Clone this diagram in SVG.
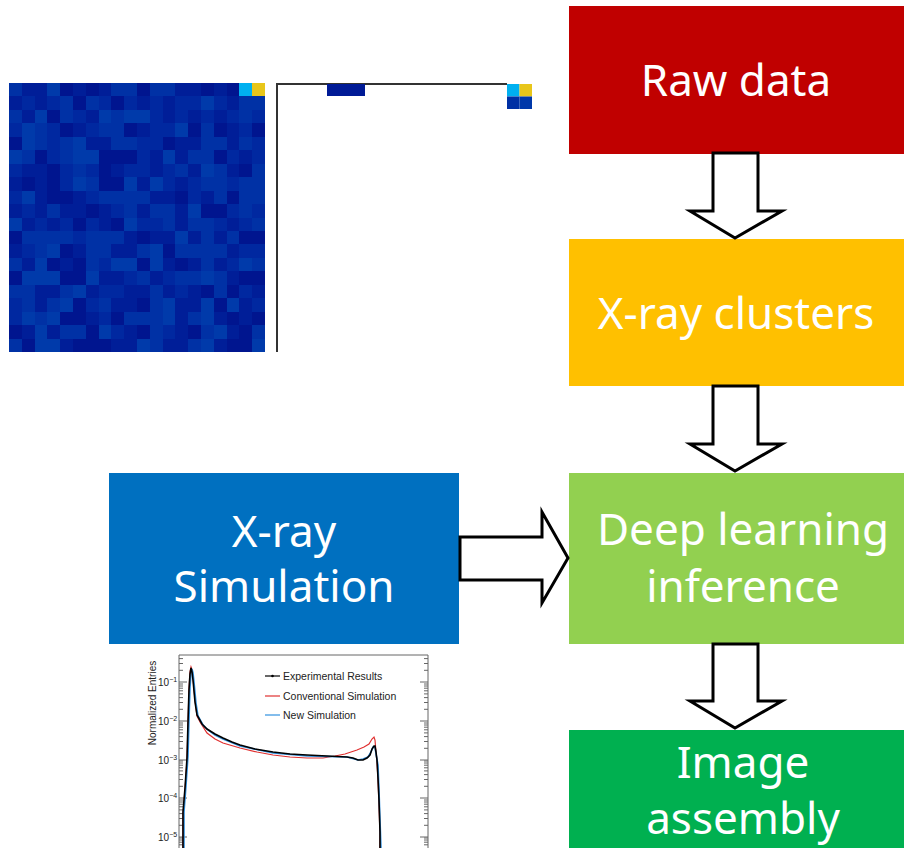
<svg xmlns="http://www.w3.org/2000/svg" width="912" height="848" viewBox="0 0 912 848">
<style>
.box text{font-family:"Noto Sans","Open Sans",sans-serif;font-size:44px;fill:#fff;text-anchor:middle}
.arrow{fill:#fff;stroke:#000;stroke-width:3;stroke-linejoin:miter}
.hm rect{width:1px;height:1px}
.l{fill:#0031a5}.L{fill:#003aaa}.d{fill:#001e98}.D{fill:#00158f}
.ax{stroke:#666;stroke-width:1;fill:none}
.pt{font-family:"Liberation Sans",Arial,sans-serif;font-size:10px;fill:#222}
.lg{font-family:"Liberation Sans",Arial,sans-serif;font-size:10.5px;fill:#222}
</style>
<rect width="912" height="848" fill="#fff"/>

<g id="heatmap">
<rect x="9" y="83" width="256" height="269" fill="#0028a0"/>
<g class="hm" transform="translate(9,83) scale(12.8,13.45)" shape-rendering="crispEdges">
<rect x="0" y="0" class="l"/><rect x="1" y="0" class="d"/><rect x="2" y="0" class="d"/><rect x="3" y="0" class="L"/><rect x="4" y="0" class="D"/><rect x="5" y="0" class="d"/><rect x="6" y="0" class="D"/><rect x="7" y="0" class="d"/><rect x="8" y="0" class="l"/><rect x="9" y="0" class="l"/><rect x="10" y="0" class="D"/><rect x="11" y="0" class="l"/><rect x="12" y="0" class="l"/><rect x="13" y="0" class="d"/><rect x="14" y="0" class="d"/><rect x="15" y="0" class="D"/><rect x="16" y="0" class="d"/><rect x="17" y="0" class="D"/><rect x="18" y="0" fill="#00b0f0"/><rect x="19" y="0" fill="#e8c61a"/>
<rect x="0" y="1" class="d"/><rect x="2" y="1" class="d"/><rect x="4" y="1" class="l"/><rect x="5" y="1" class="D"/><rect x="6" y="1" class="l"/><rect x="8" y="1" class="D"/><rect x="10" y="1" class="d"/><rect x="12" y="1" class="d"/><rect x="15" y="1" class="L"/><rect x="17" y="1" class="d"/><rect x="18" y="1" class="l"/><rect x="19" y="1" class="l"/>
<rect x="0" y="2" class="l"/><rect x="1" y="2" class="d"/><rect x="2" y="2" class="L"/><rect x="3" y="2" class="D"/><rect x="4" y="2" class="l"/><rect x="6" y="2" class="d"/><rect x="7" y="2" class="L"/><rect x="8" y="2" class="l"/><rect x="9" y="2" class="L"/><rect x="10" y="2" class="L"/><rect x="12" y="2" class="d"/><rect x="14" y="2" class="d"/><rect x="16" y="2" class="d"/><rect x="18" y="2" class="l"/>
<rect x="1" y="3" class="L"/><rect x="2" y="3" class="l"/><rect x="4" y="3" class="D"/><rect x="5" y="3" class="d"/><rect x="7" y="3" class="l"/><rect x="8" y="3" class="l"/><rect x="9" y="3" class="D"/><rect x="10" y="3" class="d"/><rect x="13" y="3" class="L"/><rect x="14" y="3" class="D"/><rect x="15" y="3" class="l"/><rect x="16" y="3" class="D"/><rect x="17" y="3" class="d"/><rect x="19" y="3" class="D"/>
<rect x="0" y="4" class="D"/><rect x="1" y="4" class="L"/><rect x="2" y="4" class="l"/><rect x="4" y="4" class="l"/><rect x="5" y="4" class="L"/><rect x="6" y="4" class="d"/><rect x="7" y="4" class="d"/><rect x="8" y="4" class="l"/><rect x="9" y="4" class="l"/><rect x="12" y="4" class="D"/><rect x="13" y="4" class="d"/><rect x="14" y="4" class="d"/><rect x="15" y="4" class="l"/><rect x="16" y="4" class="l"/><rect x="17" y="4" class="d"/><rect x="18" y="4" class="l"/>
<rect x="0" y="5" class="L"/><rect x="1" y="5" class="l"/><rect x="2" y="5" class="D"/><rect x="4" y="5" class="l"/><rect x="5" y="5" class="L"/><rect x="6" y="5" class="L"/><rect x="7" y="5" class="D"/><rect x="8" y="5" class="D"/><rect x="9" y="5" class="D"/><rect x="11" y="5" class="d"/><rect x="12" y="5" class="L"/><rect x="13" y="5" class="d"/><rect x="14" y="5" class="l"/><rect x="15" y="5" class="l"/><rect x="16" y="5" class="D"/><rect x="18" y="5" class="d"/>
<rect x="1" y="6" class="d"/><rect x="2" y="6" class="d"/><rect x="3" y="6" class="D"/><rect x="5" y="6" class="l"/><rect x="7" y="6" class="D"/><rect x="8" y="6" class="d"/><rect x="11" y="6" class="d"/><rect x="13" y="6" class="l"/><rect x="14" y="6" class="d"/><rect x="15" y="6" class="L"/><rect x="16" y="6" class="l"/><rect x="17" y="6" class="d"/><rect x="18" y="6" class="D"/><rect x="19" y="6" class="l"/>
<rect x="0" y="7" class="d"/><rect x="1" y="7" class="D"/><rect x="2" y="7" class="d"/><rect x="3" y="7" class="D"/><rect x="5" y="7" class="L"/><rect x="6" y="7" class="l"/><rect x="7" y="7" class="D"/><rect x="8" y="7" class="D"/><rect x="9" y="7" class="L"/><rect x="10" y="7" class="d"/><rect x="11" y="7" class="L"/><rect x="13" y="7" class="d"/><rect x="15" y="7" class="l"/><rect x="16" y="7" class="l"/><rect x="18" y="7" class="l"/><rect x="19" y="7" class="l"/>
<rect x="1" y="8" class="L"/><rect x="2" y="8" class="d"/><rect x="3" y="8" class="D"/><rect x="4" y="8" class="D"/><rect x="5" y="8" class="d"/><rect x="7" y="8" class="l"/><rect x="8" y="8" class="l"/><rect x="9" y="8" class="l"/><rect x="10" y="8" class="l"/><rect x="11" y="8" class="d"/><rect x="12" y="8" class="d"/><rect x="13" y="8" class="D"/><rect x="15" y="8" class="d"/><rect x="16" y="8" class="l"/><rect x="17" y="8" class="D"/><rect x="18" y="8" class="l"/><rect x="19" y="8" class="l"/>
<rect x="0" y="9" class="d"/><rect x="2" y="9" class="d"/><rect x="3" y="9" class="l"/><rect x="4" y="9" class="d"/><rect x="5" y="9" class="d"/><rect x="6" y="9" class="D"/><rect x="7" y="9" class="d"/><rect x="9" y="9" class="l"/><rect x="10" y="9" class="d"/><rect x="11" y="9" class="l"/><rect x="12" y="9" class="l"/><rect x="13" y="9" class="d"/><rect x="14" y="9" class="L"/><rect x="15" y="9" class="D"/><rect x="16" y="9" class="D"/><rect x="18" y="9" class="l"/>
<rect x="0" y="10" class="L"/><rect x="1" y="10" class="d"/><rect x="3" y="10" class="d"/><rect x="5" y="10" class="D"/><rect x="7" y="10" class="d"/><rect x="8" y="10" class="D"/><rect x="9" y="10" class="L"/><rect x="12" y="10" class="l"/><rect x="13" y="10" class="d"/><rect x="14" y="10" class="l"/><rect x="15" y="10" class="l"/><rect x="17" y="10" class="d"/><rect x="19" y="10" class="l"/>
<rect x="0" y="11" class="D"/><rect x="1" y="11" class="l"/><rect x="2" y="11" class="l"/><rect x="3" y="11" class="l"/><rect x="4" y="11" class="l"/><rect x="6" y="11" class="l"/><rect x="7" y="11" class="l"/><rect x="8" y="11" class="l"/><rect x="9" y="11" class="d"/><rect x="10" y="11" class="D"/><rect x="11" y="11" class="d"/><rect x="12" y="11" class="d"/><rect x="13" y="11" class="L"/><rect x="14" y="11" class="d"/><rect x="15" y="11" class="l"/><rect x="16" y="11" class="d"/><rect x="17" y="11" class="l"/><rect x="18" y="11" class="D"/><rect x="19" y="11" class="D"/>
<rect x="0" y="12" class="d"/><rect x="2" y="12" class="l"/><rect x="3" y="12" class="L"/><rect x="4" y="12" class="D"/><rect x="5" y="12" class="d"/><rect x="6" y="12" class="l"/><rect x="7" y="12" class="l"/><rect x="8" y="12" class="d"/><rect x="9" y="12" class="d"/><rect x="10" y="12" class="l"/><rect x="11" y="12" class="L"/><rect x="12" y="12" class="D"/><rect x="13" y="12" class="l"/><rect x="14" y="12" class="l"/><rect x="15" y="12" class="l"/><rect x="16" y="12" class="l"/><rect x="17" y="12" class="d"/>
<rect x="0" y="13" class="l"/><rect x="1" y="13" class="d"/><rect x="2" y="13" class="L"/><rect x="3" y="13" class="D"/><rect x="4" y="13" class="d"/><rect x="5" y="13" class="D"/><rect x="6" y="13" class="l"/><rect x="8" y="13" class="L"/><rect x="9" y="13" class="L"/><rect x="10" y="13" class="D"/><rect x="11" y="13" class="L"/><rect x="12" y="13" class="d"/><rect x="13" y="13" class="D"/><rect x="14" y="13" class="d"/><rect x="15" y="13" class="l"/><rect x="16" y="13" class="d"/><rect x="18" y="13" class="L"/><rect x="19" y="13" class="l"/>
<rect x="0" y="14" class="D"/><rect x="1" y="14" class="L"/><rect x="2" y="14" class="L"/><rect x="3" y="14" class="L"/><rect x="4" y="14" class="D"/><rect x="5" y="14" class="D"/><rect x="6" y="14" class="L"/><rect x="7" y="14" class="d"/><rect x="8" y="14" class="d"/><rect x="10" y="14" class="l"/><rect x="11" y="14" class="d"/><rect x="13" y="14" class="l"/><rect x="14" y="14" class="l"/><rect x="15" y="14" class="L"/><rect x="16" y="14" class="l"/><rect x="17" y="14" class="d"/><rect x="18" y="14" class="D"/><rect x="19" y="14" class="D"/>
<rect x="0" y="15" class="l"/><rect x="1" y="15" class="l"/><rect x="2" y="15" class="d"/><rect x="3" y="15" class="d"/><rect x="4" y="15" class="l"/><rect x="5" y="15" class="L"/><rect x="6" y="15" class="d"/><rect x="9" y="15" class="d"/><rect x="10" y="15" class="d"/><rect x="11" y="15" class="l"/><rect x="12" y="15" class="d"/><rect x="14" y="15" class="d"/><rect x="15" y="15" class="D"/><rect x="16" y="15" class="l"/><rect x="17" y="15" class="D"/><rect x="19" y="15" class="d"/>
<rect x="1" y="16" class="l"/><rect x="2" y="16" class="d"/><rect x="3" y="16" class="l"/><rect x="4" y="16" class="L"/><rect x="5" y="16" class="D"/><rect x="7" y="16" class="l"/><rect x="8" y="16" class="d"/><rect x="9" y="16" class="d"/><rect x="10" y="16" class="D"/><rect x="11" y="16" class="l"/><rect x="12" y="16" class="L"/><rect x="13" y="16" class="d"/><rect x="14" y="16" class="d"/><rect x="15" y="16" class="L"/><rect x="16" y="16" class="D"/><rect x="17" y="16" class="L"/><rect x="18" y="16" class="d"/>
<rect x="1" y="17" class="L"/><rect x="2" y="17" class="l"/><rect x="3" y="17" class="L"/><rect x="4" y="17" class="D"/><rect x="5" y="17" class="D"/><rect x="6" y="17" class="d"/><rect x="8" y="17" class="D"/><rect x="9" y="17" class="l"/><rect x="10" y="17" class="l"/><rect x="11" y="17" class="l"/><rect x="12" y="17" class="L"/><rect x="13" y="17" class="d"/><rect x="14" y="17" class="l"/><rect x="15" y="17" class="L"/><rect x="16" y="17" class="d"/><rect x="17" y="17" class="D"/><rect x="18" y="17" class="d"/><rect x="19" y="17" class="D"/>
<rect x="0" y="18" class="D"/><rect x="1" y="18" class="d"/><rect x="2" y="18" class="L"/><rect x="3" y="18" class="d"/><rect x="4" y="18" class="l"/><rect x="5" y="18" class="l"/><rect x="6" y="18" class="D"/><rect x="7" y="18" class="L"/><rect x="9" y="18" class="d"/><rect x="10" y="18" class="D"/><rect x="11" y="18" class="l"/><rect x="13" y="18" class="d"/><rect x="14" y="18" class="D"/><rect x="15" y="18" class="l"/><rect x="16" y="18" class="L"/><rect x="17" y="18" class="d"/><rect x="18" y="18" class="D"/><rect x="19" y="18" class="l"/>
<rect x="0" y="19" class="l"/><rect x="1" y="19" class="D"/><rect x="2" y="19" class="L"/><rect x="3" y="19" class="L"/><rect x="4" y="19" class="d"/><rect x="5" y="19" class="D"/><rect x="6" y="19" class="D"/><rect x="7" y="19" class="D"/><rect x="8" y="19" class="d"/><rect x="9" y="19" class="d"/><rect x="10" y="19" class="L"/><rect x="11" y="19" class="l"/><rect x="12" y="19" class="d"/><rect x="13" y="19" class="d"/><rect x="14" y="19" class="l"/><rect x="15" y="19" class="L"/><rect x="16" y="19" class="d"/><rect x="17" y="19" class="D"/><rect x="18" y="19" class="D"/><rect x="19" y="19" class="L"/>
</g>
</g>

<g id="sparse-frame">
<path d="M277,352 V84 H507" fill="none" stroke="#333" stroke-width="2"/>
<rect x="327" y="84" width="38" height="12" fill="#001a96"/>
<rect x="507" y="84" width="12.5" height="12.5" fill="#00b0f0"/>
<rect x="519.5" y="84" width="12.5" height="12.5" fill="#e8c61a"/>
<rect x="507" y="96.5" width="12.5" height="12.5" fill="#0030a4"/>
<rect x="519.5" y="96.5" width="12.5" height="12.5" fill="#0038aa"/>
</g>

<g id="plot">
<path class="ax" d="M179,848 V655 H428 V848"/>
<path class="ax" d="M179,682 h8 M179,721 h8 M179,760 h8 M179,798 h8 M179,837 h8 M428,682 h-8 M428,721 h-8 M428,760 h-8 M428,798 h-8 M428,837 h-8"/>
<path class="ax" stroke-width="0.7" d="M179,670.3h4M179,663.5h4M179,658.6h4M179,709.3h4M179,702.5h4M179,697.6h4M179,693.9h4M179,690.8h4M179,688.2h4M179,686h4M179,684h4M179,748.3h4M179,741.5h4M179,736.6h4M179,732.9h4M179,729.8h4M179,727.2h4M179,725h4M179,723h4M179,786.3h4M179,779.5h4M179,774.6h4M179,770.9h4M179,767.8h4M179,765.2h4M179,763h4M179,761h4M179,825.3h4M179,818.5h4M179,813.6h4M179,809.9h4M179,806.8h4M179,804.2h4M179,802h4M179,800h4M179,844.8h4M179,842.2h4M179,840h4M179,838h4
M428,670.3h-4M428,663.5h-4M428,658.6h-4M428,709.3h-4M428,702.5h-4M428,697.6h-4M428,693.9h-4M428,690.8h-4M428,688.2h-4M428,686h-4M428,684h-4M428,748.3h-4M428,741.5h-4M428,736.6h-4M428,732.9h-4M428,729.8h-4M428,727.2h-4M428,725h-4M428,723h-4M428,786.3h-4M428,779.5h-4M428,774.6h-4M428,770.9h-4M428,767.8h-4M428,765.2h-4M428,763h-4M428,761h-4M428,825.3h-4M428,818.5h-4M428,813.6h-4M428,809.9h-4M428,806.8h-4M428,804.2h-4M428,802h-4M428,800h-4M428,844.8h-4M428,842.2h-4M428,840h-4M428,838h-4"/>
<text class="pt" x="158" y="686">10<tspan dy="-4" font-size="7">−1</tspan></text>
<text class="pt" x="158" y="725">10<tspan dy="-4" font-size="7">−2</tspan></text>
<text class="pt" x="158" y="764">10<tspan dy="-4" font-size="7">−3</tspan></text>
<text class="pt" x="158" y="802">10<tspan dy="-4" font-size="7">−4</tspan></text>
<text class="pt" x="158" y="841">10<tspan dy="-4" font-size="7">−5</tspan></text>
<text class="pt" text-anchor="middle" transform="translate(156,703) rotate(-90)" font-size="12">Normalized Entries</text>
<path fill="none" stroke="#e03030" stroke-width="1.2" d="M183,848 L183,815 L185,790 L187,760 L188,724 L189,690 L190,672 L191,667 L192,670 L193,678 L195,700 L197,716 L200,722 L207,733 L215,739 L223,743 L240,748 L257,752 L273,755 L290,757 L307,758 L323,758 L335,756 L345,754 L357,750 L364,747 L369,744 L372,739 L374,737 L375,740 L376,752 L377,762 L378,780 L379,805 L380,835 L380,848"/>
<path fill="none" stroke="#3090e0" stroke-width="1.6" d="M184,848 L184,812 L186,786 L188,756 L189,720 L190,688 L191,673 L192,669 L193,673 L194,682 L196,703 L198,716 L203,725 L208,730 L215,735 L223,739 L240,746 L273,753 L307,756 L347,757 L358,760 L363,759 L368,757 L371,752 L373,747 L375,747 L376,754 L378,765 L379,790 L380,820 L381,848"/>
<path fill="none" stroke="#000" stroke-width="1.6" d="M183,848 L183,812 L185,788 L187,758 L188,722 L189,690 L190,674 L191,668 L192,672 L193,680 L195,702 L197,715 L202,724 L207,729 L215,734 L223,738 L232,742 L240,745 L255,749 L273,752 L290,754 L307,755 L327,756 L347,757 L353,758 L358,760 L363,760 L367,758 L370,755 L372,749 L374,746 L375,746 L376,752 L377,760 L378,778 L379,800 L380,832 L380,848"/>
<path d="M265,676 h15" stroke="#000" stroke-width="1.2"/><circle cx="272.5" cy="676" r="1.3"/>
<path d="M265,696 h15" stroke="#e03030" stroke-width="1.2"/>
<path d="M265,715 h15" stroke="#3090e0" stroke-width="1.2"/>
<text class="lg" x="283" y="680">Experimental Results</text>
<text class="lg" x="283" y="699.5">Conventional Simulation</text>
<text class="lg" x="283" y="719">New Simulation</text>
</g>

<g id="raw-data" class="box">
<rect x="569" y="6" width="335" height="148" fill="#c00000"/>
<text x="736" y="96">Raw data</text>
</g>
<g id="xray-clusters" class="box">
<rect x="569" y="239" width="335" height="147" fill="#ffc000"/>
<text x="736" y="329">X-ray clusters</text>
</g>
<g id="deep-learning" class="box">
<rect x="569" y="473" width="335" height="171" fill="#92d050"/>
<text x="743" y="545">Deep learning</text>
<text x="743" y="602">inference</text>
</g>
<g id="image-assembly" class="box">
<rect x="569" y="730" width="335" height="130" fill="#00b050"/>
<text x="743" y="778">Image</text>
<text x="743" y="834">assembly</text>
</g>
<g id="xray-simulation" class="box">
<rect x="109" y="473" width="350" height="171" fill="#0070c0"/>
<text x="284" y="547">X-ray</text>
<text x="284" y="602">Simulation</text>
</g>

<g id="connectors">
<path class="arrow" d="M713,153 H758 V211 H782 L735,238 L690,211 H713 Z"/>
<path class="arrow" d="M713,386 H758 V444 H782 L735,471 L690,444 H713 Z"/>
<path class="arrow" d="M713,644 H758 V701 H782 L735,728 L690,701 H713 Z"/>
<path class="arrow" d="M460,537 H542 V512 L568,558 L542,603 V580 H460 Z"/>
</g>
</svg>
